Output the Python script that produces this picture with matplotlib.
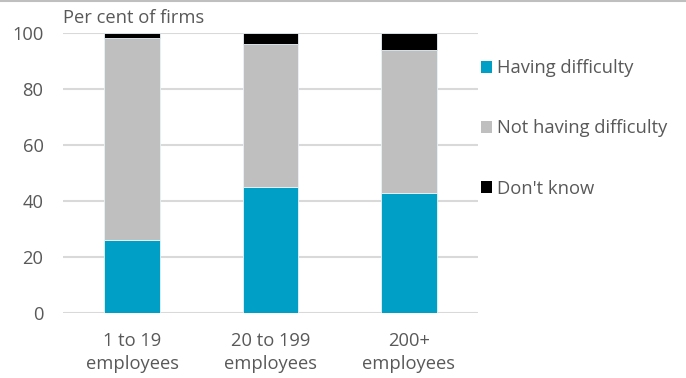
import matplotlib
matplotlib.use('Agg')
import matplotlib.pyplot as plt
import numpy as np
from matplotlib.patches import Patch
from matplotlib.lines import Line2D

categories = ['1 to 19\nemployees', '20 to 199\nemployees', '200+\nemployees']
having = [26, 45, 43]
not_having = [72, 51, 51]
dont_know = [2, 4, 6]
series_names = ['Having difficulty', 'Not having difficulty', "Don't know"]
colors = ['#00A0C6', '#BFBFBF', '#000000']
y_ticks = [0, 20, 40, 60, 80, 100]

TEXT = '#595959'
plt.rcParams.update({'font.family': ['Open Sans', 'DejaVu Sans'], 'font.size': 13.2})

fig = plt.figure(figsize=(6.86, 3.78), dpi=100)
ax = fig.add_axes([0.0918, 0.172, 0.605, 0.741])

x = np.arange(len(categories))
bottom = np.zeros(len(categories))
for vals, col in zip([having, not_having, dont_know], colors):
    ax.bar(x, vals, width=0.4, bottom=bottom, color=col, edgecolor='#E8F4F8', linewidth=0.6, zorder=3)
    bottom += np.array(vals)

ax.set_xlim(-0.5, 2.5)
ax.set_ylim(0, 100)
ax.set_yticks(y_ticks)
ax.set_xticks(x)
ax.set_xticklabels(categories, color=TEXT, linespacing=1.3)
ax.tick_params(axis='y', colors=TEXT, length=0, pad=14)
ax.tick_params(axis='x', colors=TEXT, length=0, pad=14)
ax.grid(axis='y', color='#D9D9D9', linewidth=1.5, zorder=0)
for s in ax.spines.values():
    s.set_visible(False)

fig.text(0.0918, 0.952, 'Per cent of firms', color=TEXT, fontsize=13.2, va='center', ha='left')

handles = [Patch(facecolor=c, edgecolor='none') for c in colors]
leg = fig.legend(handles, series_names, loc='upper left', bbox_to_anchor=(0.677, 0.887),
                 frameon=False, labelspacing=2.3, handlelength=0.6, handleheight=0.6,
                 handletextpad=0.3, labelcolor=TEXT)

fig.add_artist(Line2D([0, 1], [0.998, 0.998], transform=fig.transFigure, color='#BFBFBF', linewidth=1.5))

fig.savefig('out.png', dpi=100)
